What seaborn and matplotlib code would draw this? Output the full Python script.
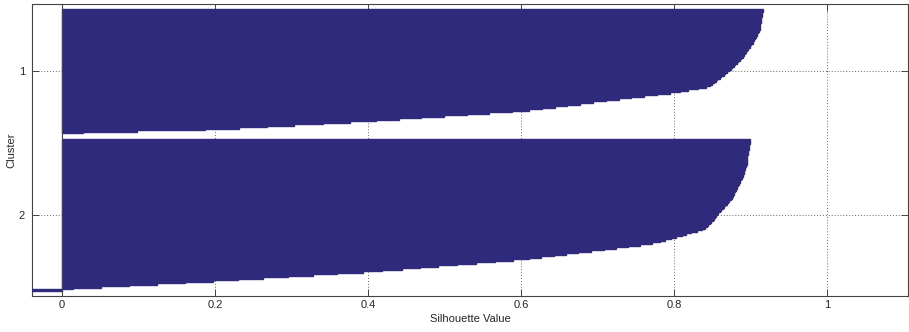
import numpy as np
import pandas as pd
import seaborn as sns
import matplotlib
matplotlib.use("Agg")
import matplotlib.pyplot as plt

# silhouette values per cluster, sorted high -> low
cluster1_vals = [0.916, 0.916, 0.915, 0.915, 0.915, 0.914, 0.914, 0.914, 0.914, 0.913,
                 0.913, 0.913, 0.912, 0.912, 0.911, 0.910, 0.909, 0.908, 0.907, 0.906,
                 0.905, 0.904, 0.903, 0.901, 0.900, 0.899, 0.897, 0.896, 0.894, 0.893,
                 0.892, 0.890, 0.888, 0.886, 0.884, 0.882, 0.880, 0.878, 0.876, 0.874,
                 0.872, 0.870, 0.867, 0.865, 0.862, 0.860, 0.857, 0.855, 0.852, 0.850,
                 0.847, 0.842, 0.831, 0.819, 0.808, 0.795, 0.778, 0.761, 0.744, 0.728,
                 0.711, 0.694, 0.677, 0.660, 0.644, 0.627, 0.610, 0.588, 0.558, 0.529,
                 0.499, 0.470, 0.441, 0.411, 0.377, 0.341, 0.304, 0.268, 0.231, 0.187,
                 0.098, 0.028]
cluster2_vals = [0.899, 0.899, 0.899, 0.898, 0.898, 0.898, 0.898, 0.897, 0.897, 0.897,
                 0.896, 0.896, 0.896, 0.895, 0.895, 0.895, 0.895, 0.894, 0.893, 0.893,
                 0.892, 0.892, 0.891, 0.890, 0.890, 0.889, 0.888, 0.887, 0.886, 0.885,
                 0.884, 0.883, 0.882, 0.881, 0.880, 0.879, 0.878, 0.877, 0.876, 0.874,
                 0.872, 0.871, 0.869, 0.867, 0.865, 0.864, 0.862, 0.860, 0.858, 0.856,
                 0.855, 0.854, 0.852, 0.851, 0.849, 0.847, 0.845, 0.843, 0.841, 0.837,
                 0.830, 0.823, 0.816, 0.810, 0.803, 0.796, 0.789, 0.782, 0.772, 0.756,
                 0.740, 0.724, 0.708, 0.692, 0.675, 0.659, 0.643, 0.626, 0.610, 0.590,
                 0.566, 0.541, 0.517, 0.492, 0.468, 0.444, 0.419, 0.393, 0.360, 0.328,
                 0.295, 0.263, 0.230, 0.197, 0.161, 0.124, 0.088, 0.051, 0.014, -0.100]
cluster_names = ["1", "2"]
x_ticks = [0, 0.2, 0.4, 0.6, 0.8, 1]
gap = 4  # empty bar slots between clusters

# bar positions like matlab's silhouette()
rows = []
pos = 1
centers = []
for vals in [cluster1_vals, cluster2_vals]:
    start = pos
    for v in vals:
        rows.append({"pos": pos, "value": v})
        pos += 1
    centers.append((start + pos - 1) / 2)
    pos += gap
df = pd.DataFrame(rows)

sns.set_style("white")
plt.rcParams["font.family"] = ["Liberation Sans", "DejaVu Sans"]

fig = plt.figure(figsize=(9.09, 3.32), dpi=100)
ax = fig.add_axes([32 / 909, 36 / 332, 876 / 909, 292 / 332])

barcol = "#302a7c"
sns.barplot(data=df, x="value", y="pos", orient="y", native_scale=True,
            width=1, color=barcol, saturation=1, errorbar=None,
            edgecolor=barcol, linewidth=1.0, ax=ax, zorder=3)

ax.set_xlim(-0.039, 1.106)
ax.set_ylim(189.8, -2.8)
ax.set_xticks(x_ticks)
ax.set_xticklabels(["0", "0.2", "0.4", "0.6", "0.8", "1"])
ax.set_yticks(centers)
ax.set_yticklabels(cluster_names)

# dotted grid behind the bars
for xt in x_ticks[1:]:
    ax.axvline(xt, color="#666666", lw=0.7, ls=(0, (1, 2)), zorder=1)
for yc in centers:
    ax.axhline(yc, color="#666666", lw=0.7, ls=(0, (1, 2)), zorder=1)
ax.axvline(0, color="#444444", lw=0.8, zorder=4)

ax.tick_params(axis="both", direction="in", length=5, width=0.7, color="#333333",
               labelsize=8, pad=3, top=True, right=True, bottom=True, left=True)
ax.tick_params(axis="y", pad=5)
for s in ax.spines.values():
    s.set_color("#444444")
    s.set_linewidth(0.8)
    s.set_visible(True)

ax.set_xlabel("Silhouette Value", fontsize=8, labelpad=3)
ax.set_ylabel("Cluster", fontsize=8, labelpad=2)

fig.savefig("out.png", dpi=100)
